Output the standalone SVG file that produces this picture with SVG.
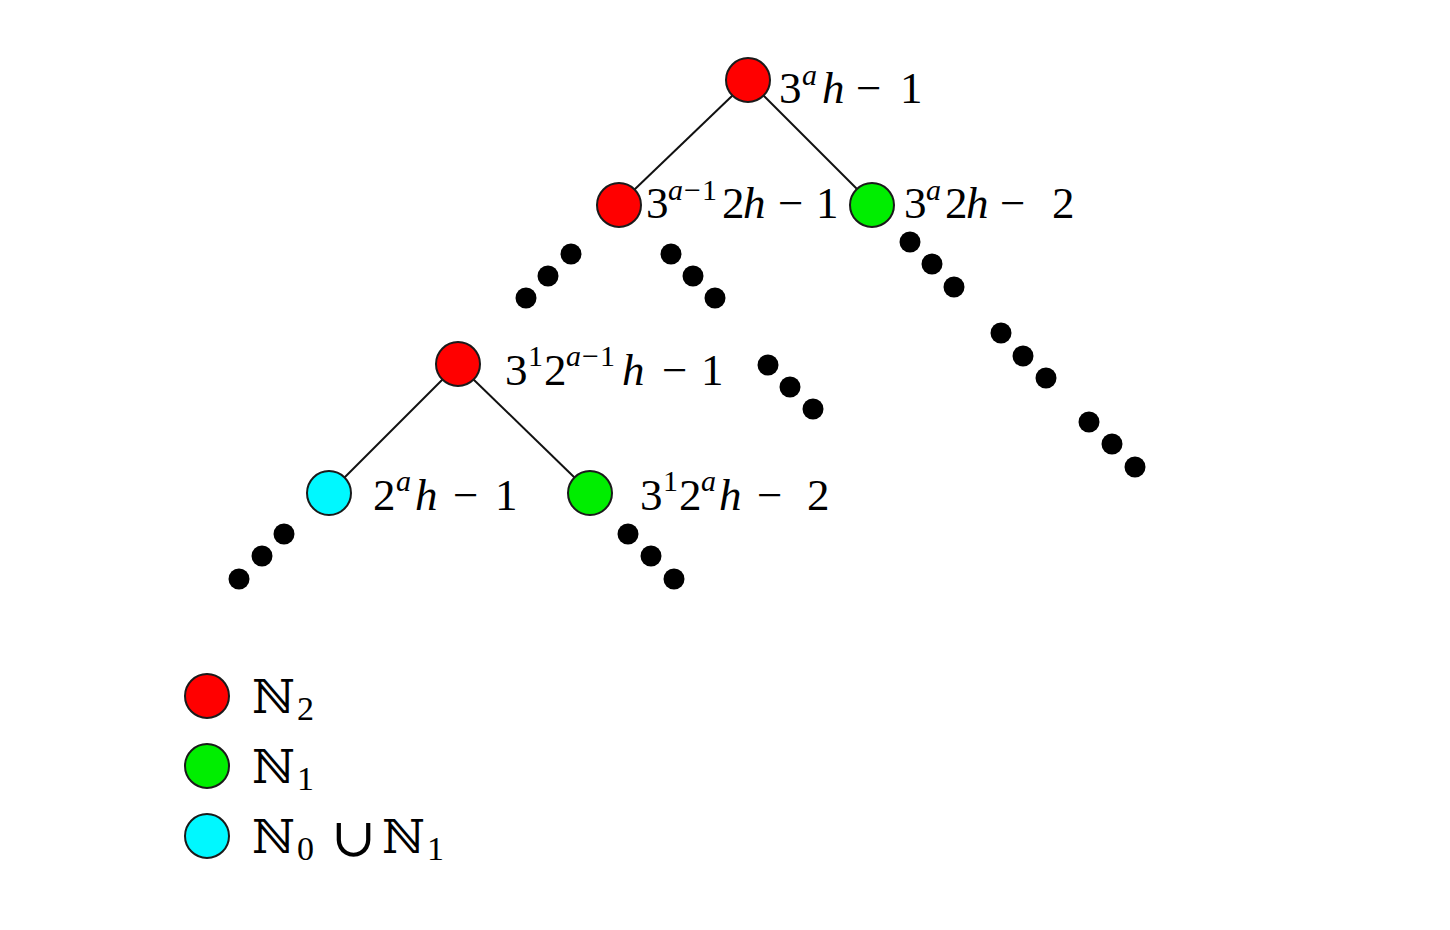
<svg xmlns="http://www.w3.org/2000/svg" width="1450" height="930" viewBox="0 0 1450 930">
<style>
.node{stroke:#1a1a1a;stroke-width:2}
.red{fill:#ff0000}
.green{fill:#00ee00}
.cyan{fill:#00f8ff}
.edge{stroke:#111;stroke-width:2;fill:none}
.dot{fill:#000}
.t{font-family:"Liberation Serif","DejaVu Serif",serif;font-size:45px;fill:#000}
.i{font-style:italic}
.s{font-size:30px}
.bb{font-family:"DejaVu Serif","DejaVu Sans",serif;font-size:47px;fill:#000}
.cup{font-family:"DejaVu Serif","DejaVu Sans",serif;font-size:54px;fill:#000}
.sub{font-family:"Liberation Serif",serif;font-size:34px;fill:#000}
</style>
<rect width="1450" height="930" fill="#fff"/>
<g id="connectors">
<line class="edge" x1="733" y1="95" x2="634" y2="190"/>
<line class="edge" x1="763" y1="95" x2="858" y2="190"/>
<line class="edge" x1="443" y1="379" x2="344" y2="478"/>
<line class="edge" x1="473" y1="379" x2="575" y2="478"/>
</g>
<g id="dots">
<circle class="dot" cx="571" cy="254" r="10.5"/><circle class="dot" cx="548" cy="276" r="10.5"/><circle class="dot" cx="526" cy="298" r="10.5"/>
<circle class="dot" cx="671" cy="254" r="10.5"/><circle class="dot" cx="693" cy="276" r="10.5"/><circle class="dot" cx="715" cy="298" r="10.5"/>
<circle class="dot" cx="910" cy="242" r="10.5"/><circle class="dot" cx="932" cy="264" r="10.5"/><circle class="dot" cx="954" cy="287" r="10.5"/>
<circle class="dot" cx="1001" cy="333" r="10.5"/><circle class="dot" cx="1023" cy="356" r="10.5"/><circle class="dot" cx="1046" cy="378" r="10.5"/>
<circle class="dot" cx="1089" cy="422" r="10.5"/><circle class="dot" cx="1112" cy="444" r="10.5"/><circle class="dot" cx="1135" cy="467" r="10.5"/>
<circle class="dot" cx="768" cy="365" r="10.5"/><circle class="dot" cx="790" cy="387" r="10.5"/><circle class="dot" cx="813" cy="409" r="10.5"/>
<circle class="dot" cx="284" cy="534" r="10.5"/><circle class="dot" cx="262" cy="556" r="10.5"/><circle class="dot" cx="239" cy="579" r="10.5"/>
<circle class="dot" cx="628" cy="534" r="10.5"/><circle class="dot" cx="651" cy="556" r="10.5"/><circle class="dot" cx="674" cy="579" r="10.5"/>
</g>
<g id="n-root">
<circle class="node red" cx="748" cy="80" r="22"/>
<text class="t" y="103"><tspan x="779">3</tspan><tspan class="i s" x="802" y="85">a</tspan><tspan class="i" x="822" y="103">h</tspan><tspan x="856">−</tspan><tspan x="900">1</tspan></text>
</g>
<g id="n-left">
<circle class="node red" cx="619" cy="205" r="22"/>
<text class="t" y="218"><tspan x="646">3</tspan><tspan class="s" y="200"><tspan class="i" x="668">a</tspan><tspan x="684">−</tspan><tspan x="702">1</tspan></tspan><tspan x="722" y="218">2</tspan><tspan class="i" x="743">h</tspan><tspan x="778">−</tspan><tspan x="816">1</tspan></text>
</g>
<g id="n-right">
<circle class="node green" cx="872" cy="205" r="22"/>
<text class="t" y="218"><tspan x="904">3</tspan><tspan class="i s" x="926" y="200">a</tspan><tspan x="945" y="218">2</tspan><tspan class="i" x="966">h</tspan><tspan x="1000">−</tspan><tspan x="1052">2</tspan></text>
</g>
<g id="n-mid">
<circle class="node red" cx="458" cy="364" r="22"/>
<text class="t" y="385"><tspan x="505">3</tspan><tspan class="s" x="528" y="366">1</tspan><tspan x="544" y="385">2</tspan><tspan class="s" y="366"><tspan class="i" x="566">a</tspan><tspan x="582">−</tspan><tspan x="600">1</tspan></tspan><tspan class="i" x="622" y="385">h</tspan><tspan x="662">−</tspan><tspan x="701">1</tspan></text>
</g>
<g id="n-cyan">
<circle class="node cyan" cx="329" cy="493" r="22"/>
<text class="t" y="510"><tspan x="373">2</tspan><tspan class="i s" x="396" y="491">a</tspan><tspan class="i" x="415" y="510">h</tspan><tspan x="453">−</tspan><tspan x="495">1</tspan></text>
</g>
<g id="n-green2">
<circle class="node green" cx="590" cy="493" r="22"/>
<text class="t" y="510"><tspan x="640">3</tspan><tspan class="s" x="663" y="491">1</tspan><tspan x="679" y="510">2</tspan><tspan class="i s" x="701" y="491">a</tspan><tspan class="i" x="719" y="510">h</tspan><tspan x="757">−</tspan><tspan x="807">2</tspan></text>
</g>
<g id="legend">
<g id="legend-n2">
<circle class="node red" cx="207" cy="696" r="22"/>
<text class="bb" x="252" y="713">ℕ</text><text class="sub" x="297" y="720">2</text>
</g>
<g id="legend-n1">
<circle class="node green" cx="207" cy="766" r="22"/>
<text class="bb" x="252" y="783">ℕ</text><text class="sub" x="297" y="790">1</text>
</g>
<g id="legend-n0n1">
<circle class="node cyan" cx="207" cy="836" r="22"/>
<text class="bb" x="252" y="853">ℕ</text><text class="sub" x="297" y="860">0</text>
<text class="cup" x="331" y="856">∪</text>
<text class="bb" x="382" y="853">ℕ</text><text class="sub" x="427" y="860">1</text>
</g>
</g>
</svg>
